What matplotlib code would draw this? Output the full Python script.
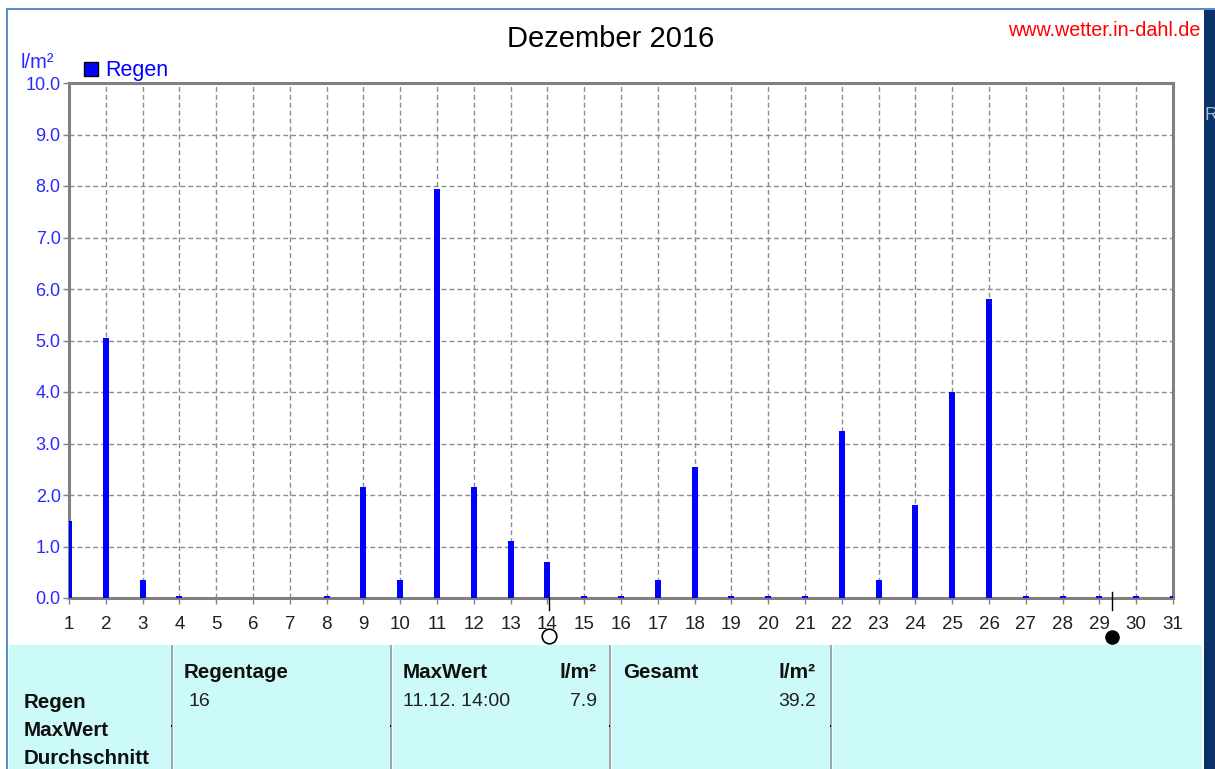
import matplotlib
matplotlib.use("Agg")
import matplotlib.pyplot as plt
from matplotlib.patches import Patch, Rectangle
from matplotlib.transforms import blended_transform_factory

plt.rcParams['font.family'] = ['Liberation Sans', 'DejaVu Sans']

# rain per day, December 2016
days = list(range(1, 32))
rain = [1.5, 5.05, 0.35, 0.03, 0, 0, 0, 0.03, 2.15, 0.35, 7.95, 2.15, 1.1, 0.7, 0.03, 0.03,
        0.35, 2.55, 0.03, 0.03, 0.03, 3.25, 0.35, 1.8, 4.0, 5.8, 0.03, 0.03, 0.03, 0.03, 0.03]
y_ticks = [0, 1, 2, 3, 4, 5, 6, 7, 8, 9, 10]
full_moon_day = 14.04
new_moon_day = 29.34

W, H = 1215, 769
BLUE = '#0000ff'
TICK_BLUE = '#2a2aff'

fig = plt.figure(figsize=(W / 100, H / 100), dpi=100, facecolor='white')

# page furniture in pixel coordinates
bg = fig.add_axes([0, 0, 1, 1], zorder=0)
bg.set_xlim(0, W)
bg.set_ylim(H, 0)
bg.axis('off')
bg.add_patch(Rectangle((6, 8), W - 6, 2, color='#5b8dc6', lw=0))
bg.add_patch(Rectangle((6, 8), 2, H - 8, color='#5b8dc6', lw=0))
bg.add_patch(Rectangle((1204, 10), 11, H - 10, color='#0a3268', lw=0))
bg.add_patch(Rectangle((9, 645), 1193, H - 645, color='#ccfaf8', lw=0))
for x in [172, 391, 610, 831]:
    bg.add_patch(Rectangle((x - 1, 645), 2, H - 645, color='#a0a8a8', lw=0))
    bg.add_patch(Rectangle((x + 1, 645), 1, H - 645, color='#f0ffff', lw=0))
    bg.add_patch(Rectangle((x - 1, 725), 1, 2, color='black', lw=0))
bg.text(1204, 116, 'R', color='#a8bdd0', fontsize=13, va='center', ha='left', clip_on=True)

bg.text(611, 39, 'Dezember 2016', fontsize=21, ha='center', va='center', color='black')
bg.text(1200, 31, 'www.wetter.in-dahl.de', fontsize=14.2, ha='right', va='center', color='#ff0000')
bg.text(21, 62, 'l/m²', fontsize=14.5, ha='left', va='center', color=TICK_BLUE)

# table below the chart
for label, y in [('Regen', 702), ('MaxWert', 731), ('Durchschnitt', 759)]:
    bg.text(24, y, label, fontsize=14.8, fontweight='bold', va='center', ha='left', color='#101010')
for label, x in [('Regentage', 184), ('MaxWert', 403), ('Gesamt', 623)]:
    bg.text(x, 672, label, fontsize=14.8, fontweight='bold', va='center', ha='left', color='#101010')
for x in [597, 816]:
    bg.text(x, 672, 'l/m²', fontsize=15, fontweight='bold', va='center', ha='right', color='#101010')
bg.text(188, 702, '16', fontsize=14, va='center', ha='left', color='#202020')
bg.text(403, 702, '11.12. 14:00', fontsize=14, va='center', ha='left', color='#202020')
bg.text(597, 702, '7.9', fontsize=14, va='center', ha='right', color='#202020')
bg.text(816, 702, '39.2', fontsize=14, va='center', ha='right', color='#202020')

# main chart
ax = fig.add_axes([69 / W, 1 - 598 / H, 1104 / W, 515 / H], zorder=1)
ax.patch.set_alpha(0)
ax.bar(days, rain, width=0.16, color=BLUE, zorder=3)
ax.set_xlim(1, 31)
ax.set_ylim(0, 10)
ax.set_xticks(days)
ax.set_yticks(y_ticks)
ax.set_yticklabels([f'{v:.1f}' for v in y_ticks])
ax.tick_params(axis='x', labelsize=13.5, colors='#202020', length=4, width=1, color='#808080', pad=9)
ax.tick_params(axis='y', labelsize=13, labelcolor=TICK_BLUE, length=4, width=1, color='#808080', pad=2)
ax.grid(True, color='#8c8c8c', linestyle=(0, (3.5, 2.2)), linewidth=1)
ax.set_axisbelow(True)
for side in ax.spines.values():
    side.set_color('#808080')
    side.set_linewidth(2.2)

ax.legend(handles=[Patch(facecolor=BLUE, edgecolor='black', label='Regen')],
          loc='lower left', bbox_to_anchor=(15 / 1104, 1.003), frameon=False,
          fontsize=15.5, labelcolor=BLUE, handlelength=0.65, handleheight=0.65,
          handletextpad=0.35, borderpad=0, borderaxespad=0)

# moon phases under the axis
trans = blended_transform_factory(ax.transData, ax.transAxes)
ax.plot([full_moon_day, full_moon_day], [0, -12 / 515], color='black', lw=1, transform=trans, clip_on=False, zorder=4)
ax.plot([new_moon_day, new_moon_day], [6 / 515, -12 / 515], color='black', lw=1, transform=trans, clip_on=False, zorder=4)
ax.plot([full_moon_day], [-38 / 515], 'o', ms=10.5, mfc='white', mec='black', mew=1.2, transform=trans, clip_on=False)
ax.plot([new_moon_day], [-39 / 515], 'o', ms=9.5, mfc='black', mec='black', transform=trans, clip_on=False)

fig.savefig('out.png', dpi=100)
